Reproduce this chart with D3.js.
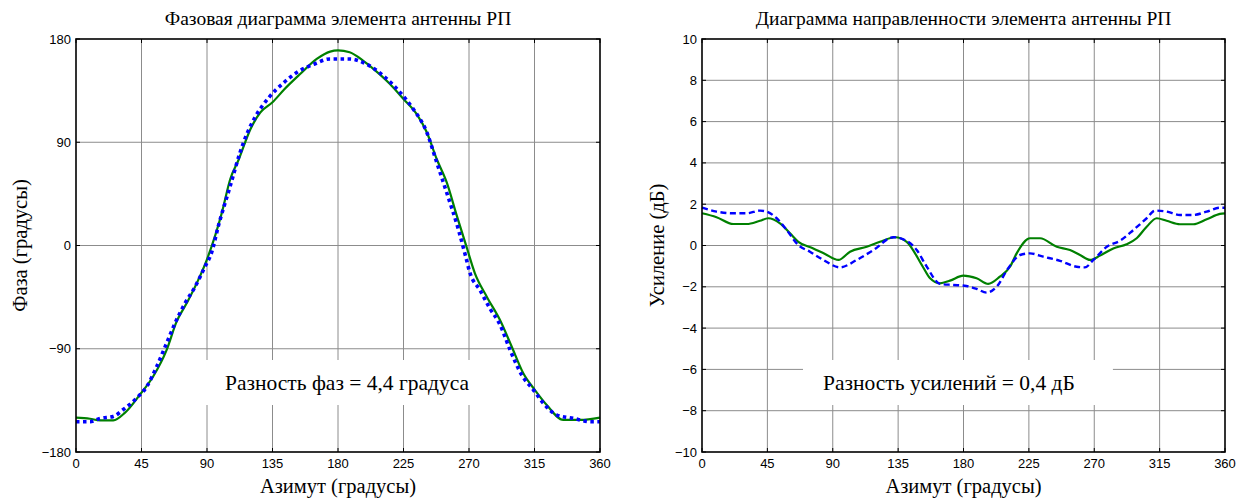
<!DOCTYPE html>
<html>
<head>
<meta charset="utf-8">
<script src="https://cdn.jsdelivr.net/npm/d3@7"></script>
<style>
  body { margin: 0; background: #fff; }
</style>
</head>
<body>
<svg id="chart" width="1237" height="499"></svg>
<script>
// --- data ---
const AZ_TICKS = [0, 45, 90, 135, 180, 225, 270, 315, 360];
const PHASE_TICKS = [-180, -90, 0, 90, 180];
const GAIN_TICKS = [-10, -8, -6, -4, -2, 0, 2, 4, 6, 8, 10];

// phase, solid green
const phaseSolidAz = [0, 9.6, 16.5, 25.6, 33.7, 43.9, 53.1, 62.3, 69.1, 76, 82.9, 90, 100.3, 106, 111.8, 119.9,
  126.7, 135, 143, 154, 165.4, 174.6, 180, 188, 197.4, 204.3, 215.7, 225, 234.1, 241, 247.8, 254.7, 261.6,
  268.5, 274, 282.2, 291.3, 299.3, 307.3, 315.3, 323.4, 334.8, 346.3, 360];
const phaseSolid = [-150, -151, -152.4, -152.4, -145.7, -130, -114, -91, -66.4, -50.4, -33, -12, 29, 58, 75, 101.6,
  116, 124.8, 136, 149.5, 162.6, 169, 170, 168.4, 161, 154, 140.8, 127.7, 114.6, 98.7, 75.4, 55, 26,
  -2, -24, -44.6, -65, -88, -111.4, -126, -139, -152, -152, -150];

// phase, dotted blue
const phaseDotAz = [0, 9.6, 16.5, 25.6, 32.5, 41.7, 48.6, 55.4, 62.3, 68, 74.9, 81.8, 88.6, 93.2, 97.8, 106,
  112.7, 117.3, 123.1, 132.5, 142.8, 151.9, 163.4, 174.6, 188, 199.7, 211.1, 222.6, 231.7, 241, 247.8,
  254.7, 262.7, 267.6, 270.7, 277.6, 284.4, 291.3, 298.2, 306.3, 314.3, 321.2, 330.4, 341.7, 353.5, 360];
const phaseDot = [-153.6, -153.6, -150.7, -149, -143, -133, -123, -105.6, -85, -67.8, -50.4, -36, -18.5, -6, 17, 52,
  81, 97, 112, 129, 142, 151, 158, 162.6, 162.6, 158, 148, 133.5, 119, 98.7, 72.5,
  46, 14, -9, -24, -39, -55, -69, -91, -113, -126, -137.6, -147.8, -150.7, -153.6, -153.6];

// gain, solid green
const gainSolidAz = [0, 10, 21.5, 30.8, 39.9, 45.6, 53.7, 60.6, 66.3, 76.6, 84.7, 93.9, 101.9, 113.4, 122.5,
  132.9, 140.9, 152, 157, 163.8, 170.7, 179.9, 189, 197, 205, 212, 216.6, 225.8, 232.7, 244.2, 253.3,
  260.2, 267.1, 274, 283.1, 292.3, 299.2, 306.1, 313, 319.8, 329, 338.2, 347.4, 356.5, 360];
const gainSolid = [1.56, 1.37, 1.04, 1.04, 1.2, 1.32, 1.07, 0.59, 0.18, -0.14, -0.41, -0.7, -0.3, -0.06, 0.18,
  0.4, 0.18, -1.03, -1.59, -1.83, -1.7, -1.46, -1.59, -1.86, -1.51, -1.03, -0.38, 0.35, 0.35, -0.06, -0.22,
  -0.46, -0.7, -0.49, -0.14, 0.06, 0.35, 0.91, 1.32, 1.2, 1.03, 1.03, 1.27, 1.53, 1.56];

// gain, dashed blue
const gainDashAz = [0, 10, 21.5, 30.8, 39.9, 44.5, 51.4, 58.3, 66.3, 74.3, 83.5, 95, 106.5, 118, 131.7, 138.6,
  147.8, 154.5, 163.8, 173, 182, 189, 196, 202.9, 210.8, 218.9, 225.8, 234.9, 246.4, 257.9, 263.6,
  269.4, 278.6, 287.8, 296.9, 306.1, 311.8, 319.8, 329, 338.2, 347.4, 356.5, 360];
const gainDash = [1.83, 1.64, 1.56, 1.56, 1.69, 1.64, 1.32, 0.75, 0.02, -0.3, -0.7, -1.06, -0.7, -0.22, 0.4, 0.3,
  -0.22, -1.0, -1.86, -1.91, -1.96, -2.1, -2.28, -1.99, -1.1, -0.46, -0.38, -0.54, -0.74, -1.03, -1.06,
  -0.7, -0.06, 0.23, 0.75, 1.32, 1.69, 1.64, 1.48, 1.48, 1.64, 1.83, 1.83];

const SERIF = "'Liberation Serif', 'Times New Roman', serif";
const SANS = "'Liberation Sans', Arial, sans-serif";

const zip = (xs, ys) => xs.map((x, i) => ({ az: x, v: ys[i] }));
const fmt = (d) => (d < 0 ? "\u2212" + Math.abs(d) : String(d));

class PatternPanel {
  constructor({ el, frame, yDomain, yTicks, title, yLabel, note, series }) {
    this.el = el;
    this.frame = frame;
    this.yDomain = yDomain;
    this.yTicks = yTicks;
    this.title = title;
    this.yLabel = yLabel;
    this.note = note;
    this.series = series;
    this.init();
  }

  init() {
    const f = this.frame;
    this.w = f.right - f.left;
    this.h = f.bottom - f.top;
    this.x = d3.scaleLinear().domain([0, 360]).range([0, this.w]);
    this.y = d3.scaleLinear().domain(this.yDomain).range([this.h, 0]);
    this.g = d3.select(this.el).append("g").attr("transform", `translate(${f.left},${f.top})`);
  }

  serifText(sel, size) {
    return sel.append("text")
      .attr("font-family", SERIF)
      .attr("font-size", size)
      .attr("fill", "#000");
  }

  render() {
    const { g, x, y, w, h } = this;

    // grid
    g.append("g")
      .selectAll("line")
      .data(AZ_TICKS.slice(1, -1))
      .join("line")
      .attr("x1", (d) => x(d)).attr("x2", (d) => x(d))
      .attr("y1", 0).attr("y2", h)
      .attr("stroke", "#8c8c8c").attr("stroke-width", 1);
    g.append("g")
      .selectAll("line")
      .data(this.yTicks.slice(1, -1))
      .join("line")
      .attr("y1", (d) => y(d)).attr("y2", (d) => y(d))
      .attr("x1", 0).attr("x2", w)
      .attr("stroke", "#8c8c8c").attr("stroke-width", 1);

    // note box with white background over the grid
    const note = g.append("g");
    const txt = this.serifText(note, 21.5)
      .attr("x", this.note.x)
      .attr("y", this.note.y)
      .text(this.note.text);
    const bb = txt.node().getBBox();
    note.insert("rect", "text")
      .attr("x", bb.x - 20)
      .attr("y", this.note.boxTop)
      .attr("width", bb.width + 20 + this.note.padRight)
      .attr("height", this.note.boxHeight)
      .attr("fill", "#fff");

    // curves
    const line = d3.line()
      .x((d) => x(d.az))
      .y((d) => y(d.v))
      .curve(d3.curveMonotoneX);
    g.append("g")
      .selectAll("path")
      .data(this.series)
      .join("path")
      .attr("d", (s) => line(s.values))
      .attr("fill", "none")
      .attr("stroke", (s) => s.color)
      .attr("stroke-width", (s) => s.width)
      .attr("stroke-dasharray", (s) => s.dash || null);

    // inward ticks on all four sides
    const tk = g.append("g").attr("stroke", "#000").attr("stroke-width", 1);
    AZ_TICKS.forEach((d) => {
      tk.append("line").attr("x1", x(d)).attr("x2", x(d)).attr("y1", h).attr("y2", h - 4);
      tk.append("line").attr("x1", x(d)).attr("x2", x(d)).attr("y1", 0).attr("y2", 4);
    });
    this.yTicks.forEach((d) => {
      tk.append("line").attr("y1", y(d)).attr("y2", y(d)).attr("x1", 0).attr("x2", 4);
      tk.append("line").attr("y1", y(d)).attr("y2", y(d)).attr("x1", w).attr("x2", w - 4);
    });

    // frame
    g.append("rect")
      .attr("width", w).attr("height", h)
      .attr("fill", "none").attr("stroke", "#000").attr("stroke-width", 1.6);

    // tick labels
    g.append("g")
      .attr("font-family", SANS).attr("font-size", 13)
      .selectAll("text")
      .data(AZ_TICKS)
      .join("text")
      .attr("x", (d) => x(d))
      .attr("y", h + 16)
      .attr("text-anchor", "middle")
      .text(fmt);
    g.append("g")
      .attr("font-family", SANS).attr("font-size", 13)
      .selectAll("text")
      .data(this.yTicks)
      .join("text")
      .attr("x", -5)
      .attr("y", (d) => y(d))
      .attr("dy", "0.35em")
      .attr("text-anchor", "end")
      .text(fmt);

    // titles
    this.serifText(g, 19.5)
      .attr("x", w / 2).attr("y", -14)
      .attr("text-anchor", "middle")
      .text(this.title);
    this.serifText(g, 20.5)
      .attr("x", w / 2).attr("y", h + 41)
      .attr("text-anchor", "middle")
      .text("Азимут (градусы)");
    this.serifText(g, 20.5)
      .attr("transform", `translate(${this.yLabel.x},${h / 2}) rotate(-90)`)
      .attr("text-anchor", "middle")
      .text(this.yLabel.text);
  }
}

const svg = document.getElementById("chart");

new PatternPanel({
  el: svg,
  frame: { left: 76, top: 39, right: 600, bottom: 452 },
  yDomain: [-180, 180],
  yTicks: PHASE_TICKS,
  title: "Фазовая диаграмма элемента антенны РП",
  yLabel: { x: -49, text: "Фаза (градусы)" },
  note: { text: "Разность фаз = 4,4 градуса", x: 149, y: 351, boxTop: 321, boxHeight: 45, padRight: 22 },
  series: [
    { values: zip(phaseSolidAz, phaseSolid), color: "#008000", width: 2.2 },
    { values: zip(phaseDotAz, phaseDot), color: "#0000ff", width: 3.6, dash: "3.5,3.5" }
  ]
}).render();

new PatternPanel({
  el: svg,
  frame: { left: 702, top: 39, right: 1225, bottom: 452 },
  yDomain: [-10, 10],
  yTicks: GAIN_TICKS,
  title: "Диаграмма направленности элемента антенны РП",
  yLabel: { x: -38, text: "Усиление (дБ)" },
  note: { text: "Разность усилений = 0,4 дБ", x: 121, y: 351, boxTop: 321, boxHeight: 45, padRight: 38 },
  series: [
    { values: zip(gainSolidAz, gainSolid), color: "#008000", width: 2.2 },
    { values: zip(gainDashAz, gainDash), color: "#0000ff", width: 2.4, dash: "6,3.5" }
  ]
}).render();
</script>
</body>
</html>
